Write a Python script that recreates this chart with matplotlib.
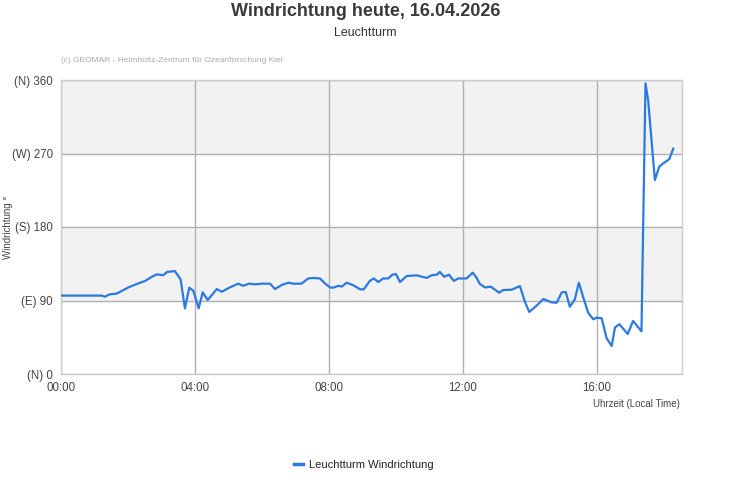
import matplotlib
matplotlib.use("Agg")
import matplotlib.pyplot as plt
from matplotlib.lines import Line2D

plt.rcParams['font.family'] = ['Liberation Sans', 'DejaVu Sans']

# hours since midnight and wind direction in degrees
hours = [0.0, 1.21, 1.31, 1.46, 1.66, 2.01, 2.31, 2.51, 2.71, 2.86, 3.05, 3.17,
         3.40, 3.45, 3.57, 3.70, 3.83, 3.95, 4.11, 4.23, 4.38, 4.65, 4.80, 5.04,
         5.29, 5.44, 5.61, 5.79, 5.99, 6.24, 6.39, 6.59, 6.79, 6.93, 7.18, 7.38,
         7.53, 7.73, 7.88, 8.03, 8.13, 8.28, 8.38, 8.53, 8.73, 8.93, 9.04, 9.22,
         9.34, 9.47, 9.62, 9.77, 9.89, 10.0, 10.12, 10.32, 10.62, 10.92, 11.07,
         11.22, 11.31, 11.44, 11.58, 11.73, 11.86, 12.11, 12.29, 12.39, 12.51,
         12.66, 12.83, 13.08, 13.20, 13.45, 13.70, 13.85, 13.98, 14.20, 14.40,
         14.65, 14.80, 14.95, 15.07, 15.19, 15.34, 15.46, 15.61, 15.74, 15.89,
         15.99, 16.14, 16.29, 16.44, 16.54, 16.67, 16.92, 17.08, 17.33, 17.45,
         17.53, 17.73, 17.86, 17.98, 18.16, 18.28]
direction = [96, 96, 94.7, 97.6, 98.4, 106, 111, 113.9, 119, 122, 121, 125,
             126, 123, 116, 80.4, 105.7, 102, 80.4, 100, 90.6, 104, 100.8, 106,
             110.6, 108, 110.6, 109.8, 110.6, 110.6, 104, 109, 111.8, 110.6, 110.6, 117,
             117.6, 117, 111, 106, 105.7, 108, 107, 111.8, 108.6, 103.7, 103.7, 114,
             117, 112.6, 117, 117, 121.6, 122.4, 112.6, 120, 120.8, 117.6, 121,
             121.6, 125, 119, 121.6, 114, 117, 117, 124, 119, 110,
             106, 107, 99.6, 102.8, 103.2, 107.6, 88.5, 76, 83.7, 91.8,
             87.7, 87.3, 100, 100.4, 82.4, 91.4, 111.8, 91.4, 75, 67,
             69, 68.3, 43.7, 34.3, 57, 61, 49, 65, 52.2, 356,
             335, 237.5, 253.8, 258, 263, 276]

y_ticks = [0, 90, 180, 270, 360]
y_labels = ['(N) 0', '(E) 90', '(S) 180', '(W) 270', '(N) 360']
x_ticks = [0, 4, 8, 12, 16]
x_labels = ['00:00', '04:00', '08:00', '12:00', '16:00']

fig = plt.figure(figsize=(7.31, 5.0), dpi=100)
ax = fig.add_axes([61 / 731, 1 - 374 / 500, 621 / 731, 294 / 500])

# alternating bands
ax.axhspan(90, 180, color='#f2f2f2', zorder=0)
ax.axhspan(270, 360, color='#f2f2f2', zorder=0)

ax.plot(hours, direction, color='#2a7ae2', lw=1.6, zorder=3)

ax.set_xlim(0, 18.54)
ax.set_ylim(0, 360)
ax.set_yticks(y_ticks)
ax.set_yticklabels(y_labels)
ax.set_xticks(x_ticks)
ax.set_xticklabels(x_labels)
ax.grid(True, color='#b0b0b0', lw=1.0, zorder=1)
ax.tick_params(length=0, labelsize=8.3, colors='#444444', pad=6)
for s in ax.spines.values():
    s.set_color('#cccccc')
    s.set_linewidth(1.0)

fig.text(8 / 731, 1 - 227 / 500, 'Windrichtung °', rotation=90, ha='center', va='center',
         fontsize=7, color='#444444')
fig.text(680 / 731, 1 - 404 / 500, 'Uhrzeit (Local Time)', ha='right', va='center',
         fontsize=7, color='#444444')

fig.text(0.5, 1 - 12 / 500, 'Windrichtung heute, 16.04.2026', ha='center', va='center',
         fontsize=13, fontweight='bold', color='#3a3a3a')
fig.text(0.5, 1 - 33 / 500, 'Leuchtturm', ha='center', va='center',
         fontsize=9, color='#333333')
fig.text(61 / 731, 1 - 60 / 500, '(c) GEOMAR - Helmholtz-Zentrum für Ozeanforschung Kiel',
         ha='left', va='center', fontsize=6, color='#aaaaaa')

handle = Line2D([], [], color='#2a7ae2', lw=2.5)
fig.legend([handle], ['Leuchtturm Windrichtung'], loc='center',
           bbox_to_anchor=(364 / 731, 1 - 465 / 500), frameon=False, fontsize=8,
           handlelength=0.8, handletextpad=0.6, labelcolor='#222222')

fig.savefig('out.png', dpi=100)
